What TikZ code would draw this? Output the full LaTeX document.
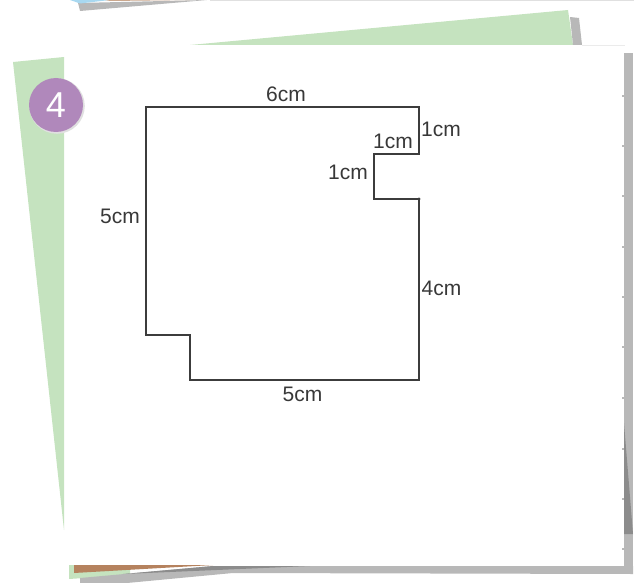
\documentclass[tikz,border=0pt]{standalone}
\usepackage{fontspec}
\setmainfont{Liberation Sans}
\definecolor{sheetgreen}{HTML}{C5E3BF}
\definecolor{shadowgray}{HTML}{B8B8B8}
\definecolor{darkgray2}{HTML}{8C8C8C}
\definecolor{brownstrip}{HTML}{B5825E}
\definecolor{badge}{HTML}{B088BB}
\definecolor{skyblue2}{HTML}{A8D8F0}
\definecolor{inkline}{HTML}{3C3C3C}
\tikzset{
  outline/.style={draw=inkline,line width=1.5pt,line join=miter},
  dim/.style={font=\fontsize{21}{23}\selectfont,text=black!78,inner sep=0pt}
}
\begin{document}
\begin{tikzpicture}[x=1pt,y=-1pt]
\useasboundingbox (0,0) rectangle (634,583);
% top slivers
\fill[black!12] (210,0) rectangle (634,1);
\fill[shadowgray] (80,11) -- (78,3) -- (207,0) -- cycle;
\fill[skyblue2] (70,0) -- (80,3.5) -- (110,0) -- cycle;
\fill[brownstrip!70] (110,1) -- (190,0) -- (105,0) -- cycle;
% green sheet
\fill[sheetgreen] (13,62) -- (64,57) -- (64,530) -- cycle;
\fill[sheetgreen] (190,45) -- (568,10) -- (573,45) -- cycle;
\fill[shadowgray] (570,17) -- (579,18) -- (582,45) -- (573,45) -- cycle;
\fill[black!8] (582,45) rectangle (625,46);
% shadow of the main sheet
\fill[shadowgray] (624,53) rectangle (633,574);
\fill[darkgray2] (624,423) -- (633,534) -- (624,534) -- cycle;
\foreach \yy in {96,146,196,247,297,347,398,449,499,549}
  \fill[shadowgray] (622,\yy-1) rectangle (624,\yy+1);
% bottom strips
\fill[sheetgreen] (69,565) -- (130,565) -- (130,575) -- (69,579) -- cycle;
\fill[shadowgray] (80,578) -- (213,566) -- (633,566) -- (633,574) -- (233,573) -- (127,583) -- (80,583) -- cycle;
\fill[darkgray2] (123,574) -- (213,566) -- (310,566) -- cycle;
\fill[brownstrip] (74,565) -- (213,565) -- (74,573) -- cycle;
% badge
\fill[black!12] (57,106) circle (27.8);
\node[circle,fill=badge,minimum size=54pt,inner sep=0pt,text=white,font=\fontsize{36}{38}\selectfont] (badge4) at (56,105) {4};
% figure
\coordinate (a) at (146,107);
\coordinate (b) at (419,107);
\coordinate (c) at (419,154);
\coordinate (d) at (374,154);
\coordinate (e) at (374,199);
\coordinate (f) at (419,199);
\coordinate (g) at (419,380);
\coordinate (h) at (190,380);
\coordinate (i) at (190,335);
\coordinate (j) at (146,335);
\draw[outline] (a) -- (b) -- (c) -- (d) -- (e) -- (f) -- (g) -- (h) -- (i) -- (j) -- cycle;
\fill[inkline] (f) circle (1.6);
% labels
\node[dim] (t1) at (286,94) {6cm};
\node[dim] (t2) at (441,129.5) {1cm};
\node[dim] (t3) at (393,141.5) {1cm};
\node[dim] (t4) at (348,172.5) {1cm};
\node[dim] (t5) at (120,216.5) {5cm};
\node[dim] (t6) at (441.5,288.5) {4cm};
\node[dim] (t7) at (302.5,394) {5cm};
\end{tikzpicture}
\end{document}
